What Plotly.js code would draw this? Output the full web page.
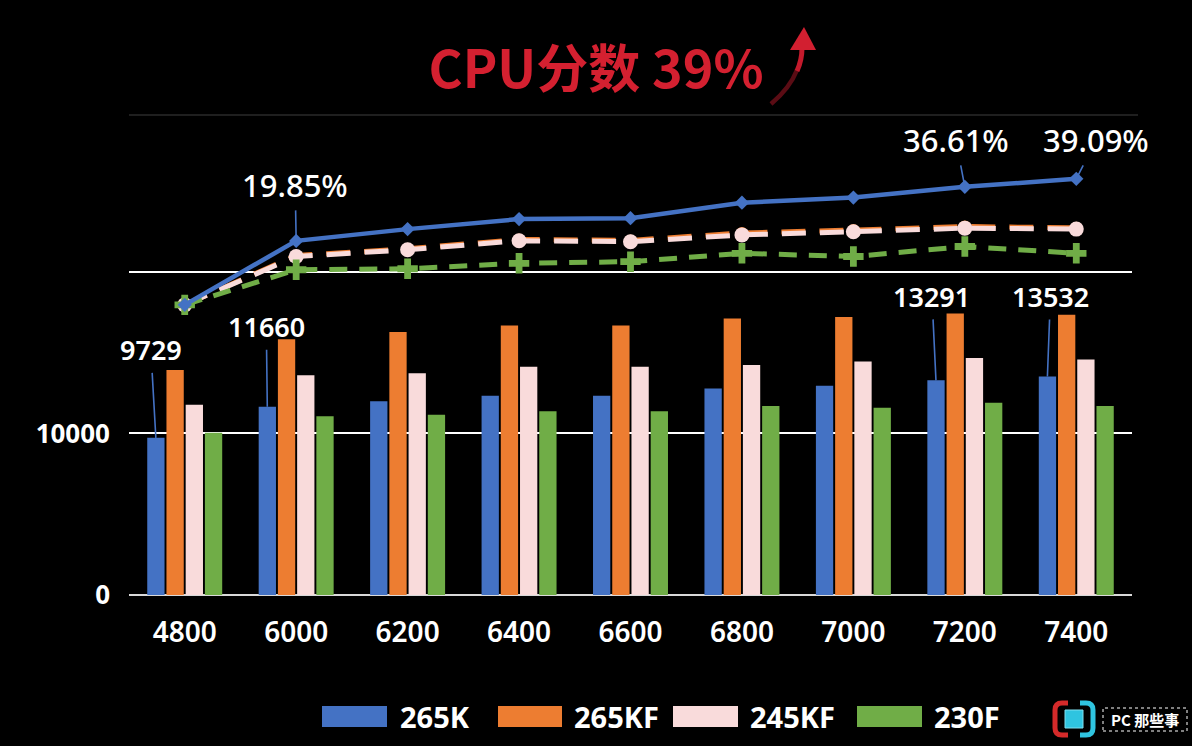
<!DOCTYPE html>
<html>
<head>
<meta charset="utf-8">
<script src="https://cdn.plot.ly/plotly-3.0.1.min.js"></script>
<style>
html,body{margin:0;padding:0;background:#000;}
#chart{width:1192px;height:746px;}
</style>
</head>
<body>
<div id="chart"></div>
<script>
// ---- data ----
const categories = ['4800','6000','6200','6400','6600','6800','7000','7200','7400'];
const seriesNames = ['265K','265KF','245KF','230F'];
const score265K  = [9729, 11660, 12000, 12340, 12340, 12780, 12960, 13291, 13532];
const score265KF = [13930, 15840, 16290, 16690, 16690, 17120, 17220, 17430, 17350];
const score245KF = [11780, 13600, 13730, 14140, 14140, 14240, 14450, 14680, 14580];
const score230F  = [10050, 11070, 11160, 11370, 11370, 11700, 11600, 11900, 11700];
const gain265K  = [0, 19.85, 23.5, 26.6, 26.9, 31.7, 33.3, 36.61, 39.09];
const gain265KF = [0, 15.3, 17.4, 20.3, 20.0, 22.3, 23.2, 24.3, 23.9];
const gain245KF = [0, 15.0, 17.1, 19.9, 19.6, 21.7, 22.7, 23.8, 23.5];
const gain230F  = [0, 10.9, 11.2, 12.9, 13.4, 16.0, 15.0, 18.1, 16.0];
const yTickVals = [0, 10000, 20000];
const yTickText = ['0', '10000', ''];
const labeledScoreIdx = [0, 1, 7, 8];
const labeledGainIdx = [1, 7, 8];
const titleText = 'CPU分数 39%';
const logoText = 'PC 那些事';

// ---- style ----
const colors = ['#4472c4', '#ed7d31', '#f9dbdb', '#70ad47'];
const M = {l:129, r:60, t:115, b:151, autoexpand: false};
const W = 1192, H = 746;
const PW = W - M.l - M.r, PH = H - M.t - M.b;
const px = x => (x - M.l) / PW;
const py = y => (H - M.b - y) / PH;
const numFont = 'Noto Sans, Open Sans, sans-serif';

const scores = [score265K, score265KF, score245KF, score230F];
const gains = [gain265K, gain265KF, gain245KF, gain230F];

const traces = [];
scores.forEach((s, i) => {
  traces.push({
    type: 'bar', x: categories, y: s, name: seriesNames[i],
    marker: {color: colors[i], line: {width: 0}},
    showlegend: false, hoverinfo: 'skip'
  });
});
const lineStyles = [
  {idx: 1, dash: '24px,14px', width: 5, symbol: 'circle', size: 12},
  {idx: 2, dash: '24px,14px', width: 5, symbol: 'circle', size: 15},
  {idx: 3, dash: '18px,12px', width: 5, symbol: 'cross', size: 17},
  {idx: 0, dash: 'solid', width: 4.5, symbol: 'diamond', size: 11}
];
lineStyles.forEach(st => {
  traces.push({
    type: 'scatter', mode: 'lines+markers', x: categories, y: gains[st.idx],
    yaxis: 'y2', name: seriesNames[st.idx] + ' %',
    line: {color: colors[st.idx], width: st.width, dash: st.dash},
    marker: {color: colors[st.idx], symbol: st.symbol, size: st.size, line: {width: 0}},
    showlegend: false, hoverinfo: 'skip'
  });
});

// annotations
const annotations = [];
const scoreOffsets = {0: [-5, -88], 1: [-1, -80], 7: [-4, -84], 8: [3, -80]};
const blueShift = -0.259;
labeledScoreIdx.forEach(i => {
  annotations.push({
    x: i + blueShift, y: score265K[i], xref: 'x', yref: 'y',
    text: String(score265K[i]), showarrow: true, arrowhead: 0, arrowwidth: 1.6,
    arrowcolor: colors[0], ax: scoreOffsets[i][0], ay: scoreOffsets[i][1],
    standoff: 0, borderpad: 4,
    font: {family: numFont, size: 27, color: '#ffffff', weight: 600}
  });
});
const gainOffsets = {1: [-1, -56], 7: [-9, -47], 8: [20, -39]};
labeledGainIdx.forEach(i => {
  annotations.push({
    x: i, y: gain265K[i], xref: 'x', yref: 'y2',
    text: gain265K[i].toFixed(2) + '%', showarrow: true, arrowhead: 0, arrowwidth: 1.6,
    arrowcolor: colors[0], ax: gainOffsets[i][0], ay: gainOffsets[i][1],
    standoff: 0, borderpad: 4,
    font: {family: numFont, size: 31, color: '#ffffff', weight: 500}
  });
});

// custom legend
const shapes = [];
const legendX = [[322, 387, 398], [498, 562, 572], [673, 738, 748], [857, 922, 932]];
seriesNames.forEach((n, i) => {
  const [x0, x1, tx] = legendX[i];
  shapes.push({type: 'rect', xref: 'paper', yref: 'paper',
    x0: px(x0), x1: px(x1), y0: py(727), y1: py(706),
    fillcolor: colors[i], line: {width: 0}});
  annotations.push({xref: 'paper', yref: 'paper', x: px(tx), y: py(716),
    xanchor: 'left', yanchor: 'middle', showarrow: false, text: n,
    font: {family: numFont, size: 29, color: '#ffffff', weight: 'bold'}});
});

// top faint frame line
shapes.push({type: 'line', xref: 'paper', yref: 'paper', x0: 0, x1: px(1138), y0: 1, y1: 1,
  line: {color: '#2a2a2a', width: 1.5}});

// red arrow next to the title
shapes.push({type: 'path', xref: 'paper', yref: 'paper',
  path: `M${px(771)},${py(104)} Q${px(790)},${py(88)} ${px(797)},${py(70)}`,
  line: {color: '#5a0c14', width: 4.5}});
shapes.push({type: 'path', xref: 'paper', yref: 'paper',
  path: `M${px(797)},${py(71)} Q${px(802)},${py(60)} ${px(802)},${py(48)}`,
  line: {color: '#c41a2c', width: 5}});
shapes.push({type: 'path', xref: 'paper', yref: 'paper',
  path: `M${px(790)},${py(50)} L${px(816)},${py(50)} L${px(804)},${py(27)} Z`,
  fillcolor: '#d21f30', line: {width: 0}});

// logo
shapes.push({type: 'path', xref: 'paper', yref: 'paper',
  path: `M${px(1068)},${py(703)} L${px(1062)},${py(703)} Q${px(1055)},${py(703)} ${px(1055)},${py(710)} L${px(1055)},${py(728)} Q${px(1055)},${py(735)} ${px(1062)},${py(735)} L${px(1068)},${py(735)}`,
  line: {color: '#d42a2a', width: 5}});
shapes.push({type: 'path', xref: 'paper', yref: 'paper',
  path: `M${px(1080)},${py(703)} L${px(1086)},${py(703)} Q${px(1093)},${py(703)} ${px(1093)},${py(710)} L${px(1093)},${py(728)} Q${px(1093)},${py(735)} ${px(1086)},${py(735)} L${px(1080)},${py(735)}`,
  line: {color: '#2fc4e0', width: 5}});
shapes.push({type: 'rect', xref: 'paper', yref: 'paper',
  x0: px(1065), x1: px(1083), y0: py(728), y1: py(710),
  fillcolor: '#2fc4e0', line: {color: '#7fe0f0', width: 1}});
shapes.push({type: 'rect', xref: 'paper', yref: 'paper',
  x0: px(1103), x1: px(1187), y0: py(731), y1: py(708),
  fillcolor: 'rgba(0,0,0,0)', line: {color: '#ffffff', width: 1, dash: 'dot'}});
annotations.push({xref: 'paper', yref: 'paper', x: px(1145), y: py(719.5),
  xanchor: 'center', yanchor: 'middle', showarrow: false, text: logoText,
  font: {family: 'Noto Sans CJK SC', size: 15, color: '#ffffff', weight: 'bold'}});

const layout = {
  width: W, height: H,
  paper_bgcolor: '#000000', plot_bgcolor: '#000000',
  margin: M,
  title: {text: titleText, xref: 'container', yref: 'container', x: 0.5, y: 1 - 70/746,
    xanchor: 'center', yanchor: 'middle',
    font: {family: 'Noto Sans CJK SC', size: 52, color: '#d42030', weight: 'bold'}},
  barmode: 'group', bargap: 0.31, bargroupgap: 0.1,
  xaxis: {type: 'category', range: [-0.5, categories.length - 0.5],
    showgrid: false, zeroline: false, showline: false,
    ticks: '', ticklabelstandoff: 18,
    tickfont: {family: numFont, size: 28, color: '#ffffff', weight: 600}},
  yaxis: {range: [0, 29720], tickvals: yTickVals, ticktext: yTickText,
    showgrid: true, gridcolor: '#ffffff', gridwidth: 2,
    zeroline: true, zerolinecolor: '#d9d9d9', zerolinewidth: 2,
    ticks: '', ticklabelstandoff: 18,
    tickfont: {family: numFont, size: 26, color: '#ffffff', weight: 'bold'}},
  yaxis2: {overlaying: 'y', side: 'right', range: [-90, 58.9], visible: false,
    showgrid: false, zeroline: false},
  showlegend: false,
  annotations: annotations,
  shapes: shapes
};

Plotly.newPlot('chart', traces, layout, {displayModeBar: false, staticPlot: true});
</script>
</body>
</html>
